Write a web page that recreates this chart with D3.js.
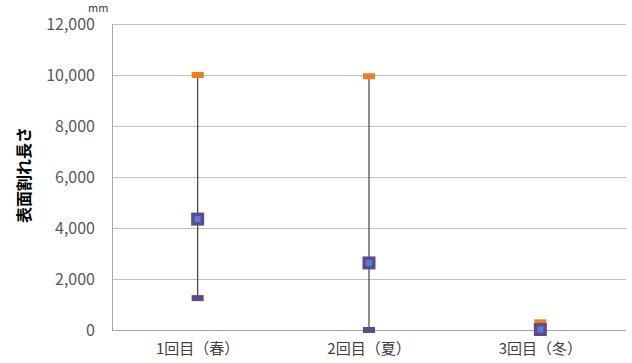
<!DOCTYPE html>
<html lang="ja">
<head>
<meta charset="utf-8">
<title>表面割れ長さ</title>
<script src="https://cdn.jsdelivr.net/npm/d3@7"></script>
<style>
  body { margin: 0; background: #fff; }
  text { font-family: "Noto Sans CJK JP", "Noto Sans", sans-serif; }
</style>
</head>
<body>
<script>
// data
var categories = ["1回目（春）", "2回目（夏）", "3回目（冬）"];
var maxValues = [10000, 9950, 300];
var minValues = [1250, 0, 0];
var avgValues = [4350, 2630, 20];
var yTicks = [0, 2000, 4000, 6000, 8000, 10000, 12000];

var w = 632, h = 363;
var margin = { left: 112, right: 6, top: 24, bottom: 33 };

var svg = d3.select("body").append("svg")
  .attr("width", w)
  .attr("height", h);

var x = d3.scaleBand()
  .domain(categories)
  .range([margin.left, w - margin.right]);

var y = d3.scaleLinear()
  .domain([0, 12000])
  .range([h - margin.bottom, margin.top]);

// gridlines
svg.append("g")
  .selectAll("line")
  .data(yTicks)
  .enter()
  .append("line")
  .attr("x1", margin.left)
  .attr("x2", w - margin.right)
  .attr("y1", function(d) { return Math.round(y(d)) + 0.5; })
  .attr("y2", function(d) { return Math.round(y(d)) + 0.5; })
  .attr("stroke", function(d) { return d === 0 ? "#a6a6a6" : "#bfbfbf"; })
  .attr("stroke-width", 1);

// y axis
var yAxis = svg.append("g")
  .attr("transform", "translate(" + margin.left + ",0)")
  .call(d3.axisLeft(y).tickValues(yTicks).tickSize(0).tickPadding(17)
    .tickFormat(d3.format(",")));
yAxis.select(".domain").attr("stroke", "#a6a6a6").attr("d", "M0.5," + margin.top + "V" + (h - margin.bottom + 0.5));
yAxis.selectAll("text")
  .attr("font-size", "16px")
  .attr("fill", "#595959")
  .attr("font-family", "'Open Sans', 'Noto Sans', sans-serif");

// x axis labels
var xAxis = svg.append("g")
  .attr("transform", "translate(0," + (h - margin.bottom) + ")")
  .call(d3.axisBottom(x).tickSize(0).tickPadding(13));
xAxis.select(".domain").remove();
xAxis.selectAll("text")
  .attr("font-size", "15px")
  .attr("fill", "#404040");

// y title
svg.append("text")
  .attr("transform", "translate(30," + 175 + ") rotate(-90)")
  .attr("text-anchor", "middle")
  .attr("font-size", "16px")
  .attr("font-weight", "bold")
  .attr("fill", "#000")
  .text("表面割れ長さ");

svg.append("text")
  .attr("x", 88)
  .attr("y", 12)
  .attr("font-size", "11px")
  .attr("fill", "#404040")
  .attr("font-family", "'Open Sans', 'Noto Sans', sans-serif")
  .text("mm");

function cx(i) { return x(categories[i]) + x.bandwidth() / 2; }

// hi-lo lines
svg.append("g")
  .selectAll("line")
  .data(categories)
  .enter()
  .append("line")
  .attr("x1", function(d, i) { return cx(i); })
  .attr("x2", function(d, i) { return cx(i); })
  .attr("y1", function(d, i) { return y(maxValues[i]); })
  .attr("y2", function(d, i) { return y(minValues[i]); })
  .attr("stroke", "#404040")
  .attr("stroke-width", 1.2);

// max markers
svg.append("g")
  .selectAll("rect")
  .data(maxValues)
  .enter()
  .append("rect")
  .attr("x", function(d, i) { return cx(i) - 6; })
  .attr("y", function(d) { return y(d) - 3; })
  .attr("width", 12)
  .attr("height", 6)
  .attr("fill", "#ed7d1f");

// min markers
svg.append("g")
  .selectAll("rect")
  .data(minValues)
  .enter()
  .append("rect")
  .attr("x", function(d, i) { return cx(i) - 6; })
  .attr("y", function(d) { return y(d) - 3; })
  .attr("width", 12)
  .attr("height", 6)
  .attr("fill", "#604a8b");

// average markers
var avg = svg.append("g")
  .selectAll("g")
  .data(avgValues)
  .enter()
  .append("g");
avg.append("rect")
  .attr("x", function(d, i) { return cx(i) - 6.5; })
  .attr("y", function(d) { return y(d) - 6.5; })
  .attr("width", 13)
  .attr("height", 13)
  .attr("fill", "#604a8b");
avg.append("rect")
  .attr("x", function(d, i) { return cx(i) - 3; })
  .attr("y", function(d) { return y(d) - 3; })
  .attr("width", 6)
  .attr("height", 6)
  .attr("fill", "#4e83d4");
</script>
</body>
</html>
